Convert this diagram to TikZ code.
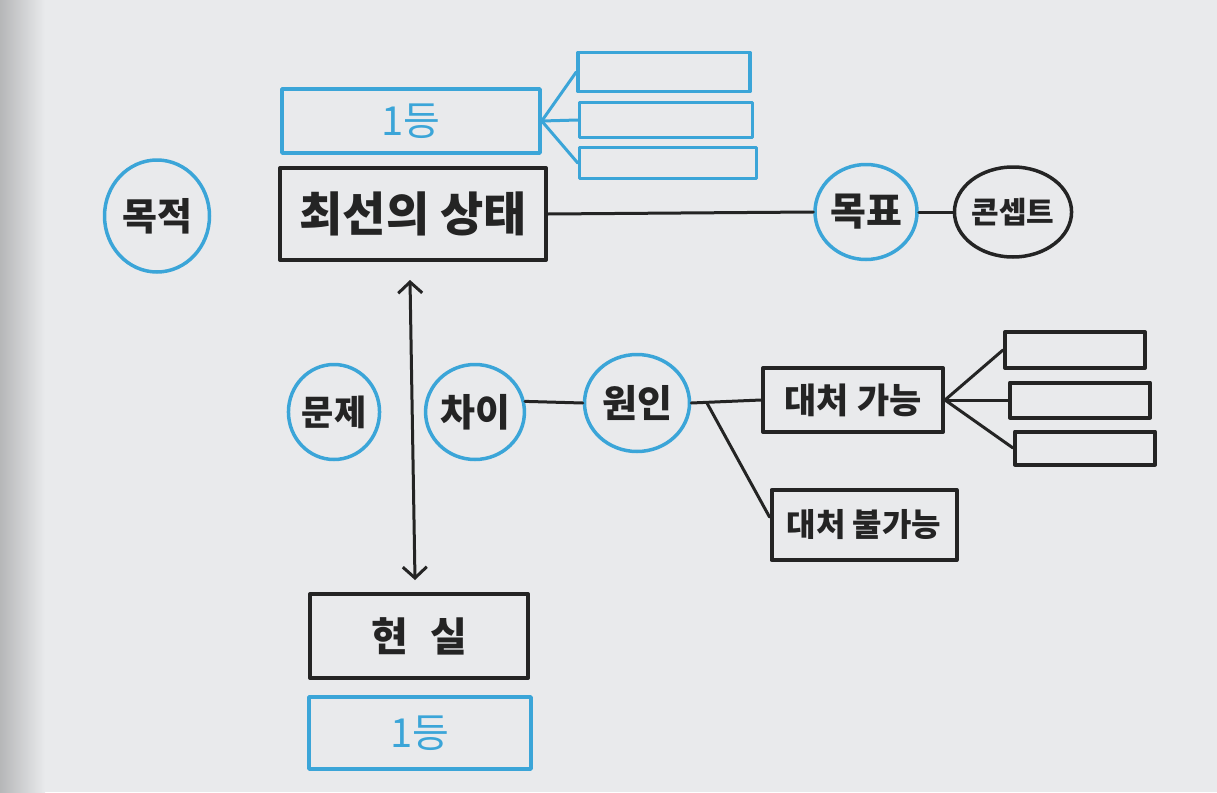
\documentclass[tikz,border=0pt]{standalone}
\usepackage{fontspec}
\newfontfamily\kr{Noto Sans CJK KR}
\usetikzlibrary{shapes.geometric,arrows.meta,calc}
\definecolor{pen}{HTML}{242424}
\definecolor{sky}{HTML}{3BA5D8}
\definecolor{paper}{HTML}{E9EAEC}
\begin{document}
\begin{tikzpicture}[x=1pt,y=-1pt,
  line join=round, line cap=round,
  bbox/.style={draw=pen,line width=4pt,rectangle,inner sep=0pt,text=pen},
  blbox/.style={draw=sky,line width=3.5pt,rectangle,inner sep=0pt,text=sky},
  bcirc/.style={draw=sky,line width=3.5pt,ellipse,inner sep=0pt,text=pen},
  kcirc/.style={draw=pen,line width=3.5pt,ellipse,inner sep=0pt,text=pen},
  fs/.style={font=\kr\bfseries\fontsize{#1}{#1}\selectfont},
  bluefs/.style={font=\kr\fontsize{40pt}{40pt}\selectfont},
  link/.style={draw=pen,line width=3pt},
  blink/.style={draw=sky,line width=3pt}]
\useasboundingbox (0,0) rectangle (1217,792);
\fill[paper] (0,0) rectangle (1217,792);
\shade[left color=paper!78!black,right color=paper] (0,0) rectangle (45,792);

% top area
\node[bcirc,fs=38pt,minimum width=105pt,minimum height=112pt] (purpose) at (157,216) {목적};
\node[bbox,fs=47pt,minimum width=266pt,minimum height=92pt] (best) at (413,214) {최선의 상태};
\node[blbox,bluefs,minimum width=258pt,minimum height=64pt] (topone) at (411,121) {1등};
\node[blbox,minimum width=172pt,minimum height=39pt] (sa) at (664,72) {};
\node[blbox,minimum width=173pt,minimum height=35pt] (sb) at (666,120) {};
\node[blbox,minimum width=177pt,minimum height=31pt] (sc) at (668,163) {};
\node[bcirc,fs=39pt,minimum width=102pt,minimum height=95pt] (target) at (866,212) {목표};
\node[kcirc,fs=30pt,minimum width=107pt,minimum height=90pt] (concept) at (1013,212) {콘셉트};

\draw[blink] (topone.east) -- (sa.west);
\draw[blink] (topone.east) -- (sb.west);
\draw[blink] (topone.east) -- (sc.west);
\draw[link] (best.east) -- (target.west);
\draw[link] (target.east) -- (concept.west);

% middle area
\node[bcirc,fs=35pt,minimum width=90pt,minimum height=95pt] (problem) at (334,412) {문제};
\node[bcirc,fs=38pt,minimum width=94pt,minimum height=95pt] (gap) at (475,412) {차이};
\node[bcirc,fs=38pt,minimum width=105pt,minimum height=97pt] (cause) at (637,403) {원인};
\node[bbox,fs=35pt,minimum width=180pt,minimum height=64pt] (able) at (853,400) {대처 가능};
\node[bbox,fs=32pt,minimum width=185pt,minimum height=70pt] (unable) at (864,525) {대처 불가능};
\node[bbox,minimum width=140pt,minimum height=36pt] (ka) at (1075,350) {};
\node[bbox,minimum width=140pt,minimum height=35pt] (kb) at (1080,400) {};
\node[bbox,minimum width=140pt,minimum height=33pt] (kc) at (1085,448) {};

\draw[link] (gap.12) -- (cause.west);
\draw[link] (cause.east) -- (able.west);
\coordinate (br) at ($(cause.east)!0.22!(able.west)$);
\draw[link] (br) -- ($(unable.west)+(0,-8)$);
\draw[link] (able.east) -- (ka.west);
\draw[link] (able.east) -- (kb.west);
\draw[link] (able.east) -- (kc.west);

% bottom area
\node[bbox,fs=40pt,minimum width=218pt,minimum height=84pt] (real) at (419,636) {현\hspace{22pt}실};
\node[blbox,bluefs,minimum width=222pt,minimum height=72pt] (botone) at (420,733) {1등};

\draw[link,{Straight Barb[length=11pt,width=24pt,line width=3pt]}-{Straight Barb[length=11pt,width=24pt,line width=3pt]}]
  ($(best.south)+(-3,18)$) -- ($(real.north)+(-4,-12)$);
\end{tikzpicture}
\end{document}
